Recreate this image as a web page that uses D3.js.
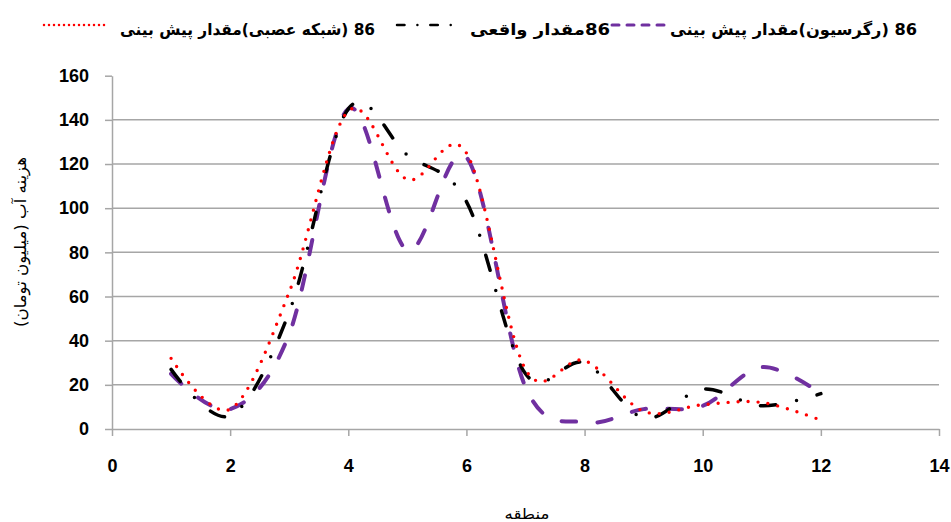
<!DOCTYPE html>
<html><head><meta charset="utf-8">
<script src="https://cdn.jsdelivr.net/npm/d3@7"></script>
<style>html,body{margin:0;padding:0;background:#fff;overflow:hidden}</style>
</head><body>
<svg id="c" width="951" height="522"></svg>
<script>
// ---- data ----
const regions = [1, 2, 3, 4, 5, 6, 7, 8, 9, 10, 11, 12];
const neuralNet86 = [32, 9, 62, 144, 113, 125, 27, 31, 8, 11, 12, 4];
const actual86 = [27, 6, 53, 145, 124, 103, 25, 30, 5, 18, 10.5, 16];
const regression86 = [25, 9, 43, 145, 81, 123, 19, 3, 9, 10.5, 28, 16];
const xTickValues = [0, 2, 4, 6, 8, 10, 12, 14];
const yTickValues = [0, 20, 40, 60, 80, 100, 120, 140, 160];
const seriesNames = ["86 (شبکه عصبی)مقدار پیش بینی", "86مقدار واقعی", "86 (رگرسیون)مقدار پیش بینی"];
const xTitle = "منطقه";
const yTitle = "هزینه آب (میلیون تومان)";

// ---- layout ----
const svg = d3.select("#c");
const x = d3.scaleLinear().domain([0, 14]).range([112, 939]);
const y = d3.scaleLinear().domain([0, 160]).range([429, 75.7]);
const gridColor = "#a6a6a6";

// gridlines
svg.append("g").selectAll("line").data(yTickValues.filter(v => v > 0 && v < 160)).join("line")
  .attr("x1", x(0)).attr("x2", x(14))
  .attr("y1", d => y(d)).attr("y2", d => y(d))
  .attr("stroke", gridColor).attr("stroke-width", 1.5);

// axes
const yAxis = svg.append("g").attr("transform", `translate(${x(0)},0)`)
  .call(d3.axisLeft(y).tickValues(yTickValues).tickSize(7).tickPadding(16).tickSizeOuter(0));
const xAxis = svg.append("g").attr("transform", `translate(0,${y(0)})`)
  .call(d3.axisBottom(x).tickValues(xTickValues).tickSize(7).tickPadding(23).tickSizeOuter(0));
[yAxis, xAxis].forEach(g => {
  g.select(".domain").attr("stroke", gridColor).attr("stroke-width", 1.5);
  g.selectAll(".tick line").attr("stroke", gridColor).attr("stroke-width", 1.5);
  g.selectAll(".tick text").attr("fill", "#000")
    .style("font-family", "'Liberation Sans', Arial, sans-serif")
    .style("font-size", "18px").style("font-weight", "bold");
});

// series
const series = [
  { name: seriesNames[2], values: regression86, color: "#7030A0", width: 4, dash: "14.5 21.5", lw: 3, ldash: "7 8" },
  { name: seriesNames[1], values: actual86, color: "#000000", width: 3.5, dash: "15.5 21 0 21", lw: 2.5, ldash: "7.5 12.9 0 12.9" },
  { name: seriesNames[0], values: neuralNet86, color: "#FF0000", width: 3.4, dash: "0 10", lw: 2.5, ldash: "0 5" }
];
const line = d3.line().x(d => x(d[0])).y(d => y(d[1])).curve(d3.curveCardinal.tension(0));
series.forEach(s => {
  svg.append("path")
    .attr("d", line(regions.map((r, i) => [r, s.values[i]])))
    .attr("fill", "none").attr("stroke", s.color)
    .attr("stroke-width", s.width).attr("stroke-dasharray", s.dash)
    .attr("stroke-linecap", "round").attr("stroke-linejoin", "round");
});

// legend
const legendItems = [
  { s: series[2], x0: 44, x1: 108, tc: 247.5, tw: 255 },
  { s: series[1], x0: 397, x1: 463, tc: 540, tw: 140 },
  { s: series[0], x0: 612, x1: 667, tc: 793.5, tw: 247 }
];
legendItems.forEach(it => {
  svg.append("line").attr("x1", it.x0).attr("x2", it.x1).attr("y1", 25).attr("y2", 25)
    .attr("stroke", it.s.color).attr("stroke-width", it.s.lw)
    .attr("stroke-dasharray", it.s.ldash).attr("stroke-linecap", "round");
  svg.append("text").attr("x", it.tc).attr("y", 34.5)
    .attr("text-anchor", "middle").attr("direction", "rtl").style("direction", "rtl")
    .attr("textLength", it.tw).attr("lengthAdjust", "spacingAndGlyphs")
    .style("font-family", "'DejaVu Sans', sans-serif").style("font-size", "16px").style("font-weight", "bold")
    .attr("fill", "#000").text(it.s.name);
});

// axis titles
svg.append("text").attr("transform", "translate(26,242) rotate(-90)")
  .attr("text-anchor", "middle").attr("direction", "rtl").style("direction", "rtl")
  .attr("textLength", 170).attr("lengthAdjust", "spacingAndGlyphs")
  .style("font-family", "'DejaVu Sans', sans-serif").style("font-size", "16px")
  .attr("fill", "#000").text(yTitle);
svg.append("text").attr("x", 527).attr("y", 519)
  .attr("text-anchor", "middle").attr("direction", "rtl").style("direction", "rtl")
  .attr("textLength", 45).attr("lengthAdjust", "spacingAndGlyphs")
  .style("font-family", "'DejaVu Sans', sans-serif").style("font-size", "15px")
  .attr("fill", "#000").text(xTitle);
</script>
</body></html>
